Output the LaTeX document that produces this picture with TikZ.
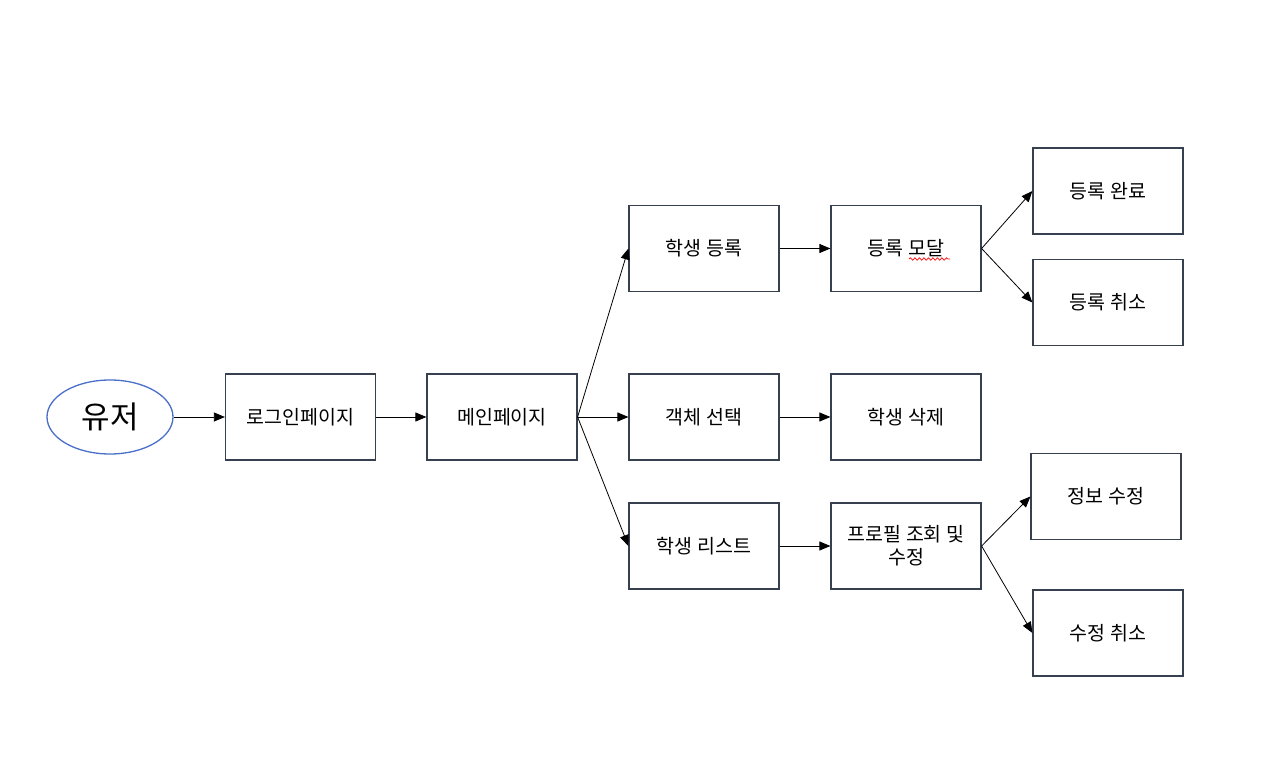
\documentclass[tikz,border=0pt]{standalone}
\usepackage{fontspec}
\setmainfont{Noto Sans CJK KR}
\usetikzlibrary{arrows.meta,decorations.pathmorphing,shapes.geometric}
\definecolor{boxline}{HTML}{36404F}
\definecolor{ellblue}{HTML}{4A6FC9}
\tikzset{
  pagebox/.style={draw=boxline, line width=1.2pt, minimum width=150pt, minimum height=86pt, inner sep=2pt, align=center, font=\fontsize{19.5pt}{22pt}\selectfont},
  flow/.style={draw=black, line width=0.8pt, -{Triangle[length=11pt,width=9pt]}},
}
\begin{document}
\begin{tikzpicture}[x=1pt,y=-1pt]
\useasboundingbox[fill=white] (0,0) rectangle (1280,770);
\node[draw=ellblue, line width=1.3pt, ellipse, minimum width=126pt, minimum height=74pt, inner sep=0pt, font=\fontsize{31pt}{34pt}\selectfont] (user) at (110,417) {유저};
\node[pagebox] (login) at (300.5,417) {로그인페이지};
\node[pagebox] (main) at (502,417) {메인페이지};
\node[pagebox] (reg) at (704,248.5) {학생 등록};
\node[pagebox] (sel) at (704,417) {객체 선택};
\node[pagebox] (list) at (704,546) {학생 리스트};
\node[pagebox] (modal) at (906,248.5) {등록 모달};
\node[pagebox] (del) at (906,417) {학생 삭제};
\node[pagebox] (prof) at (906,546) {프로필 조회 및\\[1pt]수정};
\node[pagebox] (done) at (1108,191) {등록 완료};
\node[pagebox] (cancel) at (1108,302.5) {등록 취소};
\node[pagebox] (edit) at (1106,496.5) {정보 수정};
\node[pagebox] (ecancel) at (1108,633) {수정 취소};
\draw[flow] (user.east) -- (login.west);
\draw[flow] (login.east) -- (main.west);
\draw[flow] (main.east) -- (reg.west);
\draw[flow] (main.east) -- (sel.west);
\draw[flow] (main.east) -- (list.west);
\draw[flow] (reg.east) -- (modal.west);
\draw[flow] (sel.east) -- (del.west);
\draw[flow] (list.east) -- (prof.west);
\draw[flow] (modal.east) -- (done.west);
\draw[flow] (modal.east) -- (cancel.west);
\draw[flow] (prof.east) -- (edit.west);
\draw[flow] (prof.east) -- (ecancel.west);
\coordinate (wa) at (909,259);
\coordinate (wb) at (950,259);
\draw[red, line width=0.7pt, decorate, decoration={snake, amplitude=1.2pt, segment length=4.5pt}] (wa) -- (wb);
\end{tikzpicture}
\end{document}
